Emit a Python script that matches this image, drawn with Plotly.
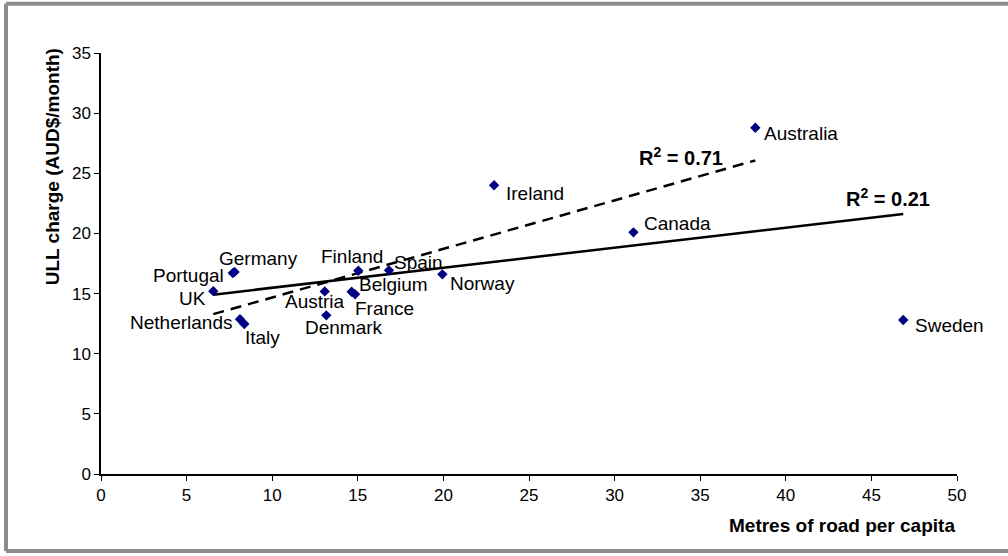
import numpy as np
import plotly.graph_objects as go

# Metres of road per capita vs monthly ULL charge, by country
countries = ["UK", "Portugal", "Germany", "Netherlands", "Italy", "Austria", "Denmark",
             "Belgium", "France", "Finland", "Spain", "Norway", "Ireland", "Australia",
             "Canada", "Sweden"]
road_m = [6.56, 7.7, 7.8, 8.12, 8.37, 13.07, 13.16, 14.64, 14.84, 15.03, 16.82, 19.94,
          22.96, 38.22, 31.1, 46.86]
ull_charge = [15.2, 16.7, 16.8, 12.86, 12.47, 15.18, 13.19, 15.15, 14.94, 16.9, 16.93, 16.6,
              24.0, 28.79, 20.09, 12.8]
excluded_from_dashed_fit = ["Sweden"]
r2_labels = [0.71, 0.21]  # dashed fit (excl. Sweden), solid fit (all)

x_ticks = list(range(0, 51, 5))
y_ticks = list(range(0, 36, 5))

# label placement: (xshift, yshift, xanchor)
label_pos = {
    "UK": (-5, -7, "right"),
    "Portugal": (-7, -2, "right"),
    "Germany": (-18, 13, "left"),
    "Netherlands": (-6, -3, "right"),
    "Italy": (-1, -13, "left"),
    "Austria": (-42, -10, "left"),
    "Denmark": (-23, -12, "left"),
    "Belgium": (5, 7, "left"),
    "France": (-2, -14, "left"),
    "Finland": (-39, 14, "left"),
    "Spain": (3, 8, "left"),
    "Norway": (6, -9, "left"),
    "Ireland": (10, -8, "left"),
    "Australia": (7, -6, "left"),
    "Canada": (9, 9, "left"),
    "Sweden": (10, -5, "left"),
}

FONT = "Liberation Sans, Arial, sans-serif"

x = np.array(road_m)
y = np.array(ull_charge)

# linear fit over all countries (solid)
a_all, b_all = np.polyfit(x, y, 1)
xs_all = np.array([x.min(), x.max()])

# linear fit excluding the outlier (dashed)
mask = np.array([c not in excluded_from_dashed_fit for c in countries])
a_sub, b_sub = np.polyfit(x[mask], y[mask], 1)
xs_sub = np.array([x[mask].min(), x[mask].max()])

fig = go.Figure()
fig.add_trace(go.Scatter(x=xs_sub, y=a_sub * xs_sub + b_sub, mode="lines",
                         line=dict(color="black", width=2.5, dash="11px,7px"),
                         hoverinfo="skip", showlegend=False))
fig.add_trace(go.Scatter(x=xs_all, y=a_all * xs_all + b_all, mode="lines",
                         line=dict(color="black", width=2.5),
                         hoverinfo="skip", showlegend=False))
fig.add_trace(go.Scatter(x=road_m, y=ull_charge, mode="markers", text=countries,
                         marker=dict(symbol="diamond", size=8, color="#000080"),
                         showlegend=False))

annotations = []
for c, xv, yv in zip(countries, road_m, ull_charge):
    dx, dy, anchor = label_pos[c]
    annotations.append(dict(x=xv, y=yv, text=c, showarrow=False, xanchor=anchor,
                            yanchor="middle", xshift=dx, yshift=dy,
                            font=dict(family=FONT, size=19, color="black")))

# R² labels next to the right ends of the fits
annotations.append(dict(x=xs_sub[1], y=a_sub * xs_sub[1] + b_sub,
                        text=f"R<sup>2</sup> = {r2_labels[0]:.2f}", showarrow=False,
                        xanchor="right", yanchor="middle", xshift=-30, yshift=4,
                        font=dict(family=FONT, size=20, color="black", weight="bold")))
annotations.append(dict(x=xs_all[1], y=a_all * xs_all[1] + b_all,
                        text=f"R<sup>2</sup> = {r2_labels[1]:.2f}", showarrow=False,
                        xanchor="right", yanchor="middle", xshift=29, yshift=16,
                        font=dict(family=FONT, size=20, color="black", weight="bold")))

# axis titles
annotations.append(dict(x=1, y=0, xref="paper", yref="paper", text="Metres of road per capita",
                        showarrow=False, xanchor="right", yanchor="top", yshift=-39,
                        font=dict(family=FONT, size=19, color="black", weight="bold")))
annotations.append(dict(x=0, y=25.5, xref="paper", yref="y", text="ULL charge (AUD$/month)",
                        showarrow=False, textangle=-90, xanchor="center", yanchor="middle",
                        xshift=-49,
                        font=dict(family=FONT, size=19, color="black", weight="bold")))

# chart-area frame (left, top and bottom edges visible)
frame = dict(color="#8c8c8c", width=4)
shapes = [
    dict(type="line", xref="paper", yref="paper", x0=-0.111, x1=-0.111, y0=-0.183, y1=1.117,
         line=frame),
    dict(type="line", xref="paper", yref="paper", x0=-0.111, x1=1.07, y0=1.117, y1=1.117,
         line=frame),
    dict(type="line", xref="paper", yref="paper", x0=-0.111, x1=1.07, y0=-0.183, y1=-0.183,
         line=frame),
]

fig.update_layout(
    width=1008, height=556,
    margin=dict(l=101, r=51, t=53, b=82),
    paper_bgcolor="white", plot_bgcolor="white",
    annotations=annotations,
    shapes=shapes,
)
fig.update_xaxes(range=[0, 50], tickvals=x_ticks, showgrid=False, zeroline=False,
                 showline=True, linecolor="black", linewidth=1.5, ticks="outside",
                 ticklen=5, tickcolor="black",
                 tickfont=dict(family=FONT, size=17, color="black"))
fig.update_yaxes(range=[0, 35], tickvals=y_ticks, showgrid=False, zeroline=False,
                 showline=True, linecolor="black", linewidth=1.5, ticks="outside",
                 ticklen=5, tickcolor="black",
                 tickfont=dict(family=FONT, size=17, color="black"))

fig.write_html("out.html")
